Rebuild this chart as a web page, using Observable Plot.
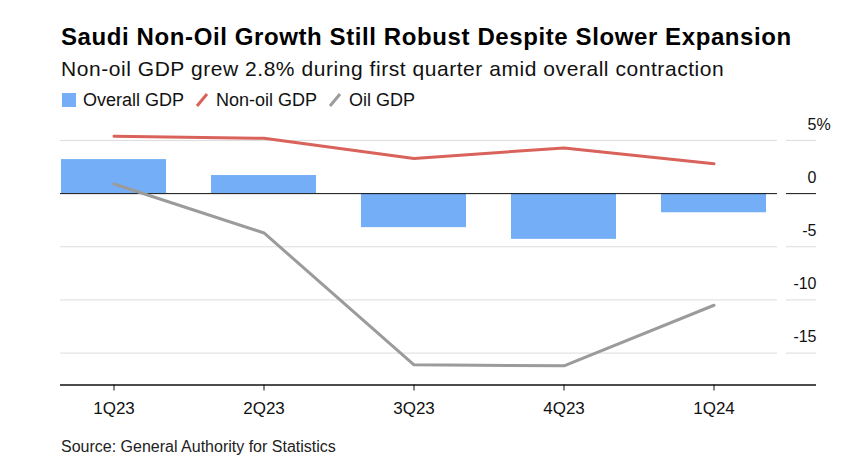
<!DOCTYPE html>
<html>
<head>
<meta charset="utf-8">
<script src="https://cdn.jsdelivr.net/npm/d3@7"></script>
<script src="https://cdn.jsdelivr.net/npm/@observablehq/plot@0.6"></script>
<style>
  html, body { margin: 0; padding: 0; background: #fff; }
  #wrap { position: relative; width: 864px; height: 474px; overflow: hidden; }
  .title { position: absolute; left: 61px; top: 24px; font-family: "Liberation Sans", Arial, sans-serif; font-weight: 700; font-size: 24px; line-height: 26px; letter-spacing: 0.6px; color: #000; white-space: nowrap; }
  .subtitle { position: absolute; left: 61px; top: 57px; font-family: "Liberation Sans", Arial, sans-serif; font-size: 21px; line-height: 23px; letter-spacing: 0.55px; color: #111; white-space: nowrap; }
  .legend { position: absolute; left: 62px; top: 90px; font-family: "Liberation Sans", Arial, sans-serif; font-size: 18px; line-height: 20px; color: #111; display: flex; align-items: center; white-space: nowrap; }
  .legend svg { display: block; }
  .legend .item { display: flex; align-items: center; margin-right: 11px; }
  .legend .item svg { margin-right: 7px; }
  #chart { position: absolute; left: 0; top: 112px; }
  .source { position: absolute; left: 61px; top: 438px; font-family: "Liberation Sans", Arial, sans-serif; font-size: 16px; line-height: 18px; color: #222; white-space: nowrap; }
</style>
</head>
<body>
<div id="wrap">
  <div class="title">Saudi Non-Oil Growth Still Robust Despite Slower Expansion</div>
  <div class="subtitle">Non-oil GDP grew 2.8% during first quarter amid overall contraction</div>
  <div class="legend" id="legend"></div>
  <div id="chart"></div>
  <div class="source">Source: General Authority for Statistics</div>
</div>
<script>
const quarters = ["1Q23", "2Q23", "3Q23", "4Q23", "1Q24"];
const overallGdp = [3.2, 1.7, -3.2, -4.3, -1.8];
const nonOilGdp = [5.4, 5.2, 3.3, 4.3, 2.8];
const oilGdp = [0.9, -3.7, -16.1, -16.2, -10.5];
const yTicks = [5, 0, -5, -10, -15];
const seriesNames = ["Overall GDP", "Non-oil GDP", "Oil GDP"];
const seriesColors = ["#74aef6", "#d9625b", "#9b9b9b"];

const bars = quarters.map((q, i) => ({q, v: overallGdp[i]}));
const nonOil = quarters.map((q, i) => ({q, v: nonOilGdp[i]}));
const oil = quarters.map((q, i) => ({q, v: oilGdp[i]}));

// legend
const legend = document.getElementById("legend");
seriesNames.forEach((name, i) => {
  const item = document.createElement("span");
  item.className = "item";
  const icon = i === 0
    ? `<svg width="14" height="14"><rect x="0" y="0" width="14" height="14" fill="${seriesColors[i]}"/></svg>`
    : `<svg width="14" height="14"><line x1="2" y1="13" x2="12" y2="1" stroke="${seriesColors[i]}" stroke-width="3"/></svg>`;
  item.innerHTML = icon + `<span>${name}</span>`;
  legend.appendChild(item);
});

const chart = Plot.plot({
  width: 864,
  height: 320,
  marginLeft: 60,
  marginRight: 48,
  marginTop: 12,
  marginBottom: 47.5,
  style: {fontFamily: "'Liberation Sans', Arial, sans-serif", fontSize: "16px", color: "#111", background: "transparent"},
  x: {type: "band", domain: quarters, range: [60, 767], paddingInner: 0.3, paddingOuter: 0},
  y: {domain: [-18, 6.5], axis: null},
  marks: [
    Plot.ruleY(yTicks.filter(d => d !== 0), {stroke: "#dcdcdc", strokeWidth: 1, insetRight: 39}),
    Plot.ruleY(yTicks.filter(d => d !== 0), {stroke: "#dcdcdc", strokeWidth: 1, insetLeft: 726}),
    Plot.barY(bars, {x: "q", y: "v", fill: seriesColors[0]}),
    Plot.ruleY([0], {stroke: "#111", strokeWidth: 1, insetRight: 39}),
    Plot.ruleY([0], {stroke: "#111", strokeWidth: 1, insetLeft: 726}),
    Plot.ruleY([-18], {stroke: "#111", strokeWidth: 1.3}),
    Plot.lineY(nonOil, {x: "q", y: "v", stroke: seriesColors[1], strokeWidth: 3}),
    Plot.lineY(oil, {x: "q", y: "v", stroke: seriesColors[2], strokeWidth: 3}),
    Plot.text(yTicks, {y: d => d, text: d => String(d), frameAnchor: "right", textAnchor: "end", dy: -16, fill: "#111", fontSize: 16}),
    Plot.text([5], {y: d => d, text: () => "%", frameAnchor: "right", textAnchor: "start", dy: -16, fill: "#111", fontSize: 16}),
    Plot.axisX({tickSize: 6, tickPadding: 11, stroke: "#111", fill: "#111", fontSize: 17, label: null})
  ]
});
document.getElementById("chart").appendChild(chart);
</script>
</body>
</html>
